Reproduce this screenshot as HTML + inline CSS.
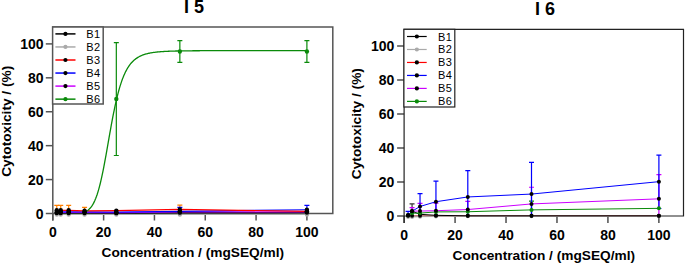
<!DOCTYPE html>
<html><head><meta charset="utf-8"><style>
html,body{margin:0;padding:0;background:#fff;width:685px;height:263px;overflow:hidden}
svg{display:block}
text{font-family:"Liberation Sans", sans-serif;fill:#000}
.tk{font-size:14px;font-weight:bold}
.ax{font-size:13.7px;font-weight:bold}
.ti{font-size:18px;font-weight:bold}
.lg{font-size:11px;letter-spacing:0.4px}
</style></head><body>
<svg width="685" height="263" viewBox="0 0 685 263">
<path d="M52.80 27.00 H332.80 V213.50 H52.80 Z M52.80 213.50 V220.50" fill="none" stroke="#555" stroke-width="1.5"/>
<line x1="45.80" y1="213.50" x2="52.80" y2="213.50" stroke="#555" stroke-width="1.5"/>
<line x1="52.80" y1="213.50" x2="52.80" y2="220.50" stroke="#555" stroke-width="1.5"/>
<text x="43.60" y="218.50" text-anchor="end" class="tk">0</text>
<text x="52.80" y="236.70" text-anchor="middle" class="tk">0</text>
<line x1="45.80" y1="179.58" x2="52.80" y2="179.58" stroke="#555" stroke-width="1.5"/>
<line x1="103.62" y1="213.50" x2="103.62" y2="220.50" stroke="#555" stroke-width="1.5"/>
<text x="43.60" y="184.58" text-anchor="end" class="tk">20</text>
<text x="103.62" y="236.70" text-anchor="middle" class="tk">20</text>
<line x1="45.80" y1="145.66" x2="52.80" y2="145.66" stroke="#555" stroke-width="1.5"/>
<line x1="154.44" y1="213.50" x2="154.44" y2="220.50" stroke="#555" stroke-width="1.5"/>
<text x="43.60" y="150.66" text-anchor="end" class="tk">40</text>
<text x="154.44" y="236.70" text-anchor="middle" class="tk">40</text>
<line x1="45.80" y1="111.74" x2="52.80" y2="111.74" stroke="#555" stroke-width="1.5"/>
<line x1="205.26" y1="213.50" x2="205.26" y2="220.50" stroke="#555" stroke-width="1.5"/>
<text x="43.60" y="116.74" text-anchor="end" class="tk">60</text>
<text x="205.26" y="236.70" text-anchor="middle" class="tk">60</text>
<line x1="45.80" y1="77.82" x2="52.80" y2="77.82" stroke="#555" stroke-width="1.5"/>
<line x1="256.08" y1="213.50" x2="256.08" y2="220.50" stroke="#555" stroke-width="1.5"/>
<text x="43.60" y="82.82" text-anchor="end" class="tk">80</text>
<text x="256.08" y="236.70" text-anchor="middle" class="tk">80</text>
<line x1="45.80" y1="43.90" x2="52.80" y2="43.90" stroke="#555" stroke-width="1.5"/>
<line x1="306.90" y1="213.50" x2="306.90" y2="220.50" stroke="#555" stroke-width="1.5"/>
<text x="43.60" y="48.90" text-anchor="end" class="tk">100</text>
<text x="306.90" y="236.70" text-anchor="middle" class="tk">100</text>
<text x="194.00" y="12.80" text-anchor="middle" class="ti">I 5</text>
<text x="192.80" y="256.50" text-anchor="middle" class="ax">Concentration / (mgSEQ/ml)</text>
<text transform="translate(10.60 121.25) rotate(-90)" text-anchor="middle" class="ax">Cytotoxicity / (%)</text>
<path d="M56.77 213.50 V205.36 M54.27 205.36 H59.27" stroke="#ff7f00" stroke-width="1.2" fill="none"/>
<path d="M60.74 213.50 V205.36 M58.24 205.36 H63.24" stroke="#ff7f00" stroke-width="1.2" fill="none"/>
<path d="M68.68 213.50 V205.36 M66.18 205.36 H71.18" stroke="#ff7f00" stroke-width="1.2" fill="none"/>
<path d="M84.56 213.50 V207.39 M82.06 207.39 H87.06" stroke="#ff7f00" stroke-width="1.2" fill="none"/>
<path d="M179.85 213.50 V205.19 M177.35 205.19 H182.35" stroke="#ff7f00" stroke-width="1.2" fill="none"/>
<path d="M179.85 213.50 V207.39 M177.35 207.39 H182.35" stroke="#0000ff" stroke-width="1.2" fill="none"/>
<path d="M306.90 213.50 V205.36 M304.40 205.36 H309.40" stroke="#0000ff" stroke-width="1.2" fill="none"/>
<path d="M116.32 155.50 V42.54 M113.82 42.54 H118.82 M113.82 155.50 H118.82" stroke="#0a8a0a" stroke-width="1.2" fill="none"/>
<path d="M179.85 62.39 V40.68 M177.35 40.68 H182.35 M177.35 62.39 H182.35" stroke="#0a8a0a" stroke-width="1.2" fill="none"/>
<path d="M306.90 62.39 V40.68 M304.40 40.68 H309.40 M304.40 62.39 H309.40" stroke="#0a8a0a" stroke-width="1.2" fill="none"/>
<polyline points="56.77,214.52 60.74,214.52 68.68,214.52 84.56,214.52 116.32,214.52 179.85,214.52 306.90,214.52" fill="none" stroke="#aaaaaa" stroke-width="1.2"/>
<polyline points="56.77,212.99 60.74,212.99 68.68,212.99 84.56,212.99 116.32,213.16 179.85,212.65 306.90,212.48" fill="none" stroke="#000" stroke-width="1.2"/>
<polyline points="56.77,212.48 60.74,212.48 68.68,212.48 84.56,212.48 116.32,212.65 179.85,211.97 306.90,211.80" fill="none" stroke="#cc00ff" stroke-width="1.2"/>
<polyline points="56.77,211.97 60.74,211.97 68.68,211.97 84.56,211.97 116.32,212.14 179.85,211.30 306.90,209.77" fill="none" stroke="#0000ff" stroke-width="1.2"/>
<polyline points="56.77,210.28 60.74,210.28 68.68,210.28 84.56,210.79 116.32,210.62 179.85,209.43 306.90,211.30" fill="none" stroke="#ff0000" stroke-width="1.2"/>
<polyline points="84.56,211.98 85.30,211.68 86.04,211.33 86.79,210.92 87.53,210.45 88.27,209.91 89.01,209.29 89.75,208.57 90.49,207.76 91.23,206.85 91.97,205.81 92.71,204.65 93.46,203.35 94.20,201.90 94.94,200.29 95.68,198.51 96.42,196.56 97.16,194.42 97.90,192.10 98.64,189.58 99.38,186.87 100.13,183.97 100.87,180.88 101.61,177.60 102.35,174.15 103.09,170.54 103.83,166.77 104.57,162.88 105.31,158.87 106.06,154.77 106.80,150.60 107.54,146.38 108.28,142.14 109.02,137.91 109.76,133.69 110.50,129.52 111.24,125.42 111.98,121.41 112.73,117.49 113.47,113.69 114.21,110.02 114.95,106.48 115.69,103.09 116.43,99.84 117.17,96.75 117.91,93.81 118.65,91.03 119.40,88.40 120.14,85.92 120.88,83.58 121.62,81.38 122.36,79.32 123.10,77.39 123.84,75.59 124.58,73.90 125.32,72.32 126.07,70.85 126.81,69.48 127.55,68.21 128.29,67.02 129.03,65.91 129.77,64.88 130.51,63.93 131.25,63.04 131.99,62.21 132.74,61.44 133.48,60.73 134.22,60.06 134.96,59.45 135.70,58.87 136.44,58.34 137.18,57.84 137.92,57.38 138.66,56.95 139.41,56.55 140.15,56.17 140.89,55.83 141.63,55.50 142.37,55.20 143.11,54.92 143.85,54.66 144.59,54.41 145.33,54.19 146.08,53.97 146.82,53.77 147.56,53.59 148.30,53.41 149.04,53.25 149.78,53.10 150.52,52.96 151.26,52.82 152.00,52.70 152.75,52.58 153.49,52.47 154.23,52.37 154.97,52.27 155.71,52.18 156.45,52.10 157.19,52.02 157.93,51.94 158.68,51.87 159.42,51.81 160.16,51.75 160.90,51.69 161.64,51.63 162.38,51.58 163.12,51.53 163.86,51.48 164.60,51.44 165.35,51.40 166.09,51.36 166.83,51.32 167.57,51.29 168.31,51.26 169.05,51.23 169.79,51.20 170.53,51.17 171.27,51.14 172.02,51.12 172.76,51.10 173.50,51.07 174.24,51.05 174.98,51.03 175.72,51.02 176.46,51.00 177.20,50.98 177.94,50.96 178.69,50.95 179.43,50.94 180.17,50.92 180.91,50.91 181.65,50.90 182.39,50.88 183.13,50.87 183.87,50.86 184.61,50.85 185.36,50.84 186.10,50.83 186.84,50.83 187.58,50.82 188.32,50.81 189.06,50.80 189.80,50.80 190.54,50.79 191.28,50.78 192.03,50.78 192.77,50.77 193.51,50.76 194.25,50.76 194.99,50.75 195.73,50.75 196.47,50.74 197.21,50.74 197.95,50.74 198.70,50.73 199.44,50.73 200.18,50.72 200.92,50.72 201.66,50.72 202.40,50.71 203.14,50.71 203.88,50.71 204.62,50.71 205.37,50.70 206.11,50.70 206.85,50.70 207.59,50.69 208.33,50.69 209.07,50.69 209.81,50.69 210.55,50.69 211.29,50.68 212.04,50.68 212.78,50.68 213.52,50.68 214.26,50.68 215.00,50.68 215.74,50.67 216.48,50.67 217.22,50.67 217.96,50.67 218.71,50.67 219.45,50.67 220.19,50.67 220.93,50.67 221.67,50.66 222.41,50.66 223.15,50.66 223.89,50.66 224.64,50.66 225.38,50.66 226.12,50.66 226.86,50.66 227.60,50.66 228.34,50.66 229.08,50.66 229.82,50.65 230.56,50.65 231.31,50.65 232.05,50.65 232.79,50.65 233.53,50.65 234.27,50.65 235.01,50.65 235.75,50.65 236.49,50.65 237.23,50.65 237.98,50.65 238.72,50.65 239.46,50.65 240.20,50.65 240.94,50.65 241.68,50.65 242.42,50.65 243.16,50.65 243.90,50.64 244.65,50.64 245.39,50.64 246.13,50.64 246.87,50.64 247.61,50.64 248.35,50.64 249.09,50.64 249.83,50.64 250.57,50.64 251.32,50.64 252.06,50.64 252.80,50.64 253.54,50.64 254.28,50.64 255.02,50.64 255.76,50.64 256.50,50.64 257.24,50.64 257.99,50.64 258.73,50.64 259.47,50.64 260.21,50.64 260.95,50.64 261.69,50.64 262.43,50.64 263.17,50.64 263.91,50.64 264.66,50.64 265.40,50.64 266.14,50.64 266.88,50.64 267.62,50.64 268.36,50.64 269.10,50.64 269.84,50.64 270.58,50.64 271.33,50.64 272.07,50.64 272.81,50.64 273.55,50.64 274.29,50.64 275.03,50.64 275.77,50.64 276.51,50.64 277.25,50.64 278.00,50.64 278.74,50.64 279.48,50.64 280.22,50.64 280.96,50.64 281.70,50.64 282.44,50.64 283.18,50.64 283.93,50.64 284.67,50.64 285.41,50.64 286.15,50.64 286.89,50.64 287.63,50.64 288.37,50.64 289.11,50.64 289.85,50.64 290.60,50.64 291.34,50.64 292.08,50.64 292.82,50.64 293.56,50.63 294.30,50.63 295.04,50.63 295.78,50.63 296.52,50.63 297.27,50.63 298.01,50.63 298.75,50.63 299.49,50.63 300.23,50.63 300.97,50.63 301.71,50.63 302.45,50.63 303.19,50.63 303.94,50.63 304.68,50.63 305.42,50.63 306.16,50.63 306.90,50.63" fill="none" stroke="#0a8a0a" stroke-width="1.3"/>
<circle cx="56.77" cy="214.52" r="2.2" fill="#aaaaaa"/>
<circle cx="60.74" cy="214.52" r="2.2" fill="#aaaaaa"/>
<circle cx="68.68" cy="214.52" r="2.2" fill="#aaaaaa"/>
<circle cx="84.56" cy="214.52" r="2.2" fill="#aaaaaa"/>
<circle cx="116.32" cy="214.52" r="2.2" fill="#aaaaaa"/>
<circle cx="179.85" cy="214.52" r="2.2" fill="#aaaaaa"/>
<circle cx="306.90" cy="214.52" r="2.2" fill="#aaaaaa"/>
<circle cx="56.77" cy="212.99" r="2.2" fill="#000"/>
<circle cx="60.74" cy="212.99" r="2.2" fill="#000"/>
<circle cx="68.68" cy="212.99" r="2.2" fill="#000"/>
<circle cx="84.56" cy="212.99" r="2.2" fill="#000"/>
<circle cx="116.32" cy="213.16" r="2.2" fill="#000"/>
<circle cx="179.85" cy="212.65" r="2.2" fill="#000"/>
<circle cx="306.90" cy="212.48" r="2.2" fill="#000"/>
<circle cx="56.77" cy="212.48" r="2.2" fill="#000"/>
<circle cx="60.74" cy="212.48" r="2.2" fill="#000"/>
<circle cx="68.68" cy="212.48" r="2.2" fill="#000"/>
<circle cx="84.56" cy="212.48" r="2.2" fill="#000"/>
<circle cx="116.32" cy="212.65" r="2.2" fill="#000"/>
<circle cx="179.85" cy="211.97" r="2.2" fill="#000"/>
<circle cx="306.90" cy="211.80" r="2.2" fill="#000"/>
<circle cx="56.77" cy="211.97" r="2.2" fill="#000"/>
<circle cx="60.74" cy="211.97" r="2.2" fill="#000"/>
<circle cx="68.68" cy="211.97" r="2.2" fill="#000"/>
<circle cx="84.56" cy="211.97" r="2.2" fill="#000"/>
<circle cx="116.32" cy="212.14" r="2.2" fill="#000"/>
<circle cx="179.85" cy="211.30" r="2.2" fill="#000"/>
<circle cx="306.90" cy="209.77" r="2.2" fill="#000"/>
<circle cx="56.77" cy="210.28" r="2.2" fill="#000"/>
<circle cx="60.74" cy="210.28" r="2.2" fill="#000"/>
<circle cx="68.68" cy="210.28" r="2.2" fill="#000"/>
<circle cx="84.56" cy="210.79" r="2.2" fill="#000"/>
<circle cx="116.32" cy="210.62" r="2.2" fill="#000"/>
<circle cx="179.85" cy="209.43" r="2.2" fill="#000"/>
<circle cx="306.90" cy="211.30" r="2.2" fill="#000"/>
<circle cx="116.32" cy="99.02" r="2.2" fill="#0a8a0a"/>
<circle cx="179.85" cy="51.53" r="2.2" fill="#0a8a0a"/>
<circle cx="306.90" cy="51.53" r="2.2" fill="#0a8a0a"/>
<rect x="52.60" y="27.00" width="50.60" height="77.00" fill="#fff" stroke="#555" stroke-width="1.5"/>
<line x1="55.40" y1="33.90" x2="75.50" y2="33.90" stroke="#000" stroke-width="1.5"/>
<circle cx="65.45" cy="33.90" r="2.1" fill="#000"/>
<text x="86.30" y="37.90" class="lg">B1</text>
<line x1="55.40" y1="46.95" x2="75.50" y2="46.95" stroke="#aaaaaa" stroke-width="1.5"/>
<circle cx="65.45" cy="46.95" r="2.1" fill="#aaaaaa"/>
<text x="86.30" y="50.95" class="lg">B2</text>
<line x1="55.40" y1="60.00" x2="75.50" y2="60.00" stroke="#ff0000" stroke-width="1.5"/>
<circle cx="65.45" cy="60.00" r="2.1" fill="#000"/>
<text x="86.30" y="64.00" class="lg">B3</text>
<line x1="55.40" y1="73.05" x2="75.50" y2="73.05" stroke="#0000ff" stroke-width="1.5"/>
<circle cx="65.45" cy="73.05" r="2.1" fill="#000"/>
<text x="86.30" y="77.05" class="lg">B4</text>
<line x1="55.40" y1="86.10" x2="75.50" y2="86.10" stroke="#cc00ff" stroke-width="1.5"/>
<circle cx="65.45" cy="86.10" r="2.1" fill="#000"/>
<text x="86.30" y="90.10" class="lg">B5</text>
<line x1="55.40" y1="99.15" x2="75.50" y2="99.15" stroke="#0a8a0a" stroke-width="1.5"/>
<circle cx="65.45" cy="99.15" r="2.1" fill="#0a8a0a"/>
<text x="86.30" y="103.15" class="lg">B6</text>
<path d="M404.10 29.30 H683.50 V216.00 H404.10 Z M404.10 216.00 V223.00" fill="none" stroke="#222" stroke-width="1.2"/>
<line x1="397.10" y1="216.00" x2="404.10" y2="216.00" stroke="#222" stroke-width="1.2"/>
<line x1="404.10" y1="216.00" x2="404.10" y2="223.00" stroke="#222" stroke-width="1.2"/>
<text x="394.30" y="221.00" text-anchor="end" class="tk">0</text>
<text x="404.10" y="239.70" text-anchor="middle" class="tk">0</text>
<line x1="397.10" y1="182.00" x2="404.10" y2="182.00" stroke="#222" stroke-width="1.2"/>
<line x1="455.06" y1="216.00" x2="455.06" y2="223.00" stroke="#222" stroke-width="1.2"/>
<text x="394.30" y="187.00" text-anchor="end" class="tk">20</text>
<text x="455.06" y="239.70" text-anchor="middle" class="tk">20</text>
<line x1="397.10" y1="148.00" x2="404.10" y2="148.00" stroke="#222" stroke-width="1.2"/>
<line x1="506.02" y1="216.00" x2="506.02" y2="223.00" stroke="#222" stroke-width="1.2"/>
<text x="394.30" y="153.00" text-anchor="end" class="tk">40</text>
<text x="506.02" y="239.70" text-anchor="middle" class="tk">40</text>
<line x1="397.10" y1="114.00" x2="404.10" y2="114.00" stroke="#222" stroke-width="1.2"/>
<line x1="556.98" y1="216.00" x2="556.98" y2="223.00" stroke="#222" stroke-width="1.2"/>
<text x="394.30" y="119.00" text-anchor="end" class="tk">60</text>
<text x="556.98" y="239.70" text-anchor="middle" class="tk">60</text>
<line x1="397.10" y1="80.00" x2="404.10" y2="80.00" stroke="#222" stroke-width="1.2"/>
<line x1="607.94" y1="216.00" x2="607.94" y2="223.00" stroke="#222" stroke-width="1.2"/>
<text x="394.30" y="85.00" text-anchor="end" class="tk">80</text>
<text x="607.94" y="239.70" text-anchor="middle" class="tk">80</text>
<line x1="397.10" y1="46.00" x2="404.10" y2="46.00" stroke="#222" stroke-width="1.2"/>
<line x1="658.90" y1="216.00" x2="658.90" y2="223.00" stroke="#222" stroke-width="1.2"/>
<text x="394.30" y="51.00" text-anchor="end" class="tk">100</text>
<text x="658.90" y="239.70" text-anchor="middle" class="tk">100</text>
<text x="545.00" y="14.80" text-anchor="middle" class="ti">I 6</text>
<text x="543.80" y="259.60" text-anchor="middle" class="ax">Concentration / (mgSEQ/ml)</text>
<text transform="translate(361.20 123.65) rotate(-90)" text-anchor="middle" class="ax">Cytotoxicity / (%)</text>
<path d="M412.06 216.00 V203.93 M409.56 203.93 H414.56" stroke="#333" stroke-width="1.2" fill="none"/>
<path d="M412.06 216.00 V207.67 M409.56 207.67 H414.56" stroke="#cc00ff" stroke-width="1.2" fill="none"/>
<path d="M420.03 216.00 V203.42 M417.53 203.42 H422.53" stroke="#cc00ff" stroke-width="1.2" fill="none"/>
<path d="M435.95 216.00 V203.08 M433.45 203.08 H438.45" stroke="#cc00ff" stroke-width="1.2" fill="none"/>
<path d="M467.80 216.00 V201.38 M465.30 201.38 H470.30" stroke="#cc00ff" stroke-width="1.2" fill="none"/>
<path d="M531.50 216.00 V187.27 M529.00 187.27 H534.00" stroke="#cc00ff" stroke-width="1.2" fill="none"/>
<path d="M658.90 216.00 V174.69 M656.40 174.69 H661.40" stroke="#cc00ff" stroke-width="1.2" fill="none"/>
<path d="M531.50 216.00 V201.21 M529.00 201.21 H534.00" stroke="#0a8a0a" stroke-width="1.2" fill="none"/>
<path d="M408.08 216.00 V211.41 M405.58 211.41 H410.58" stroke="#0000ff" stroke-width="1.2" fill="none"/>
<path d="M420.03 216.00 V193.56 M417.53 193.56 H422.53" stroke="#0000ff" stroke-width="1.2" fill="none"/>
<path d="M435.95 216.00 V181.15 M433.45 181.15 H438.45" stroke="#0000ff" stroke-width="1.2" fill="none"/>
<path d="M467.80 216.00 V170.61 M465.30 170.61 H470.30" stroke="#0000ff" stroke-width="1.2" fill="none"/>
<path d="M531.50 216.00 V162.45 M529.00 162.45 H534.00" stroke="#0000ff" stroke-width="1.2" fill="none"/>
<path d="M658.90 208.52 V155.14 M656.40 155.14 H661.40 M656.40 208.52 H661.40" stroke="#0000ff" stroke-width="1.2" fill="none"/>
<polyline points="408.08,217.02 412.06,217.02 420.03,216.68 435.95,216.51 467.80,216.34 531.50,216.34 658.90,216.34" fill="none" stroke="#aaaaaa" stroke-width="1.0"/>
<polyline points="408.08,215.66 412.06,215.66 420.03,215.66 435.95,215.66 467.80,215.66 531.50,215.66 658.90,215.66" fill="none" stroke="#cc7777" stroke-width="1.0"/>
<polyline points="408.08,215.32 412.06,211.24 420.03,214.30 435.95,215.32 467.80,215.83 531.50,215.83 658.90,215.83" fill="none" stroke="#000" stroke-width="1.0"/>
<polyline points="408.08,215.32 412.06,213.11 420.03,213.11 435.95,211.92 467.80,211.75 531.50,209.88 658.90,208.35" fill="none" stroke="#0a8a0a" stroke-width="1.0"/>
<polyline points="408.08,215.32 412.06,211.07 420.03,211.07 435.95,210.73 467.80,209.54 531.50,203.93 658.90,198.83" fill="none" stroke="#cc00ff" stroke-width="1.0"/>
<polyline points="408.08,215.32 412.06,211.24 420.03,206.48 435.95,201.72 467.80,196.96 531.50,194.07 658.90,181.66" fill="none" stroke="#0000ff" stroke-width="1.0"/>
<circle cx="408.08" cy="217.02" r="2.0" fill="#aaaaaa"/>
<circle cx="412.06" cy="217.02" r="2.0" fill="#aaaaaa"/>
<circle cx="420.03" cy="216.68" r="2.0" fill="#aaaaaa"/>
<circle cx="435.95" cy="216.51" r="2.0" fill="#aaaaaa"/>
<circle cx="467.80" cy="216.34" r="2.0" fill="#aaaaaa"/>
<circle cx="531.50" cy="216.34" r="2.0" fill="#aaaaaa"/>
<circle cx="658.90" cy="216.34" r="2.0" fill="#aaaaaa"/>
<circle cx="408.08" cy="215.66" r="2.0" fill="#000"/>
<circle cx="412.06" cy="215.66" r="2.0" fill="#000"/>
<circle cx="420.03" cy="215.66" r="2.0" fill="#000"/>
<circle cx="435.95" cy="215.66" r="2.0" fill="#000"/>
<circle cx="467.80" cy="215.66" r="2.0" fill="#000"/>
<circle cx="531.50" cy="215.66" r="2.0" fill="#000"/>
<circle cx="658.90" cy="215.66" r="2.0" fill="#000"/>
<circle cx="408.08" cy="215.32" r="2.0" fill="#000"/>
<circle cx="412.06" cy="211.24" r="2.0" fill="#000"/>
<circle cx="420.03" cy="214.30" r="2.0" fill="#000"/>
<circle cx="435.95" cy="215.32" r="2.0" fill="#000"/>
<circle cx="467.80" cy="215.83" r="2.0" fill="#000"/>
<circle cx="531.50" cy="215.83" r="2.0" fill="#000"/>
<circle cx="658.90" cy="215.83" r="2.0" fill="#000"/>
<circle cx="408.08" cy="215.32" r="2.0" fill="#0a8a0a"/>
<circle cx="412.06" cy="213.11" r="2.0" fill="#0a8a0a"/>
<circle cx="420.03" cy="213.11" r="2.0" fill="#0a8a0a"/>
<circle cx="435.95" cy="211.92" r="2.0" fill="#0a8a0a"/>
<circle cx="467.80" cy="211.75" r="2.0" fill="#0a8a0a"/>
<circle cx="531.50" cy="209.88" r="2.0" fill="#0a8a0a"/>
<circle cx="658.90" cy="208.35" r="2.0" fill="#0a8a0a"/>
<circle cx="408.08" cy="215.32" r="2.0" fill="#000"/>
<circle cx="412.06" cy="211.07" r="2.0" fill="#000"/>
<circle cx="420.03" cy="211.07" r="2.0" fill="#000"/>
<circle cx="435.95" cy="210.73" r="2.0" fill="#000"/>
<circle cx="467.80" cy="209.54" r="2.0" fill="#000"/>
<circle cx="531.50" cy="203.93" r="2.0" fill="#000"/>
<circle cx="658.90" cy="198.83" r="2.0" fill="#000"/>
<circle cx="408.08" cy="215.32" r="2.0" fill="#000"/>
<circle cx="412.06" cy="211.24" r="2.0" fill="#000"/>
<circle cx="420.03" cy="206.48" r="2.0" fill="#000"/>
<circle cx="435.95" cy="201.72" r="2.0" fill="#000"/>
<circle cx="467.80" cy="196.96" r="2.0" fill="#000"/>
<circle cx="531.50" cy="194.07" r="2.0" fill="#000"/>
<circle cx="658.90" cy="181.66" r="2.0" fill="#000"/>
<rect x="403.90" y="29.30" width="50.90" height="77.70" fill="#fff" stroke="#222" stroke-width="1.2"/>
<line x1="407.00" y1="36.50" x2="426.70" y2="36.50" stroke="#000" stroke-width="1.2"/>
<circle cx="416.85" cy="36.50" r="2.1" fill="#000"/>
<text x="437.90" y="40.50" class="lg">B1</text>
<line x1="407.00" y1="49.48" x2="426.70" y2="49.48" stroke="#aaaaaa" stroke-width="1.2"/>
<circle cx="416.85" cy="49.48" r="2.1" fill="#aaaaaa"/>
<text x="437.90" y="53.48" class="lg">B2</text>
<line x1="407.00" y1="62.46" x2="426.70" y2="62.46" stroke="#ff0000" stroke-width="1.2"/>
<circle cx="416.85" cy="62.46" r="2.1" fill="#000"/>
<text x="437.90" y="66.46" class="lg">B3</text>
<line x1="407.00" y1="75.44" x2="426.70" y2="75.44" stroke="#0000ff" stroke-width="1.2"/>
<circle cx="416.85" cy="75.44" r="2.1" fill="#000"/>
<text x="437.90" y="79.44" class="lg">B4</text>
<line x1="407.00" y1="88.42" x2="426.70" y2="88.42" stroke="#cc00ff" stroke-width="1.2"/>
<circle cx="416.85" cy="88.42" r="2.1" fill="#000"/>
<text x="437.90" y="92.42" class="lg">B5</text>
<line x1="407.00" y1="101.40" x2="426.70" y2="101.40" stroke="#0a8a0a" stroke-width="1.2"/>
<circle cx="416.85" cy="101.40" r="2.1" fill="#0a8a0a"/>
<text x="437.90" y="105.40" class="lg">B6</text>
</svg>
</body></html>
